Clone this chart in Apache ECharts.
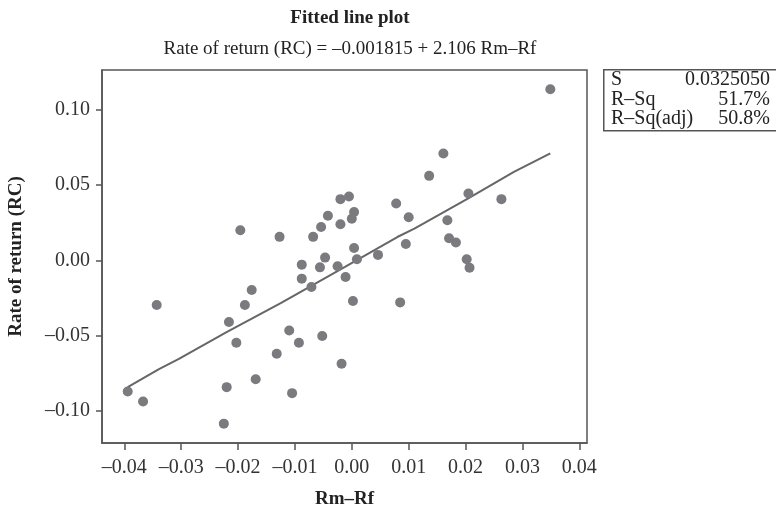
<!DOCTYPE html>
<html>
<head>
<meta charset="utf-8">
<script src="https://cdn.jsdelivr.net/npm/echarts@6/dist/echarts.min.js"></script>
<style>html,body{margin:0;padding:0;background:#fff}#c{width:776px;height:510px}</style>
</head>
<body>
<div id="c"></div>
<script>
// Observed points (Rm-Rf, Rate of return)
var rmRf = [-0.0394,-0.0367,-0.0343,-0.0225,-0.0220,-0.0216,-0.0203,-0.0196,-0.0188,-0.0176,
  -0.0169,-0.0132,-0.0127,-0.0110,-0.0105,-0.0093,-0.0088,-0.0088,-0.0071,-0.0068,
  -0.0056,-0.0054,-0.0052,-0.0047,-0.0042,-0.0025,-0.0020,-0.0020,-0.0018,-0.0011,
  -0.0005,0.0000,0.0002,0.0004,0.0004,0.0009,0.0046,0.0078,0.0085,0.0095,
  0.0100,0.0136,0.0161,0.0168,0.0171,0.0183,0.0202,0.0207,0.0205,0.0263,0.0349];
var rcReturn = [-0.0873,-0.0940,-0.0298,-0.1087,-0.0844,-0.0411,-0.0549,0.0200,-0.0298,-0.0198,
  -0.0791,-0.0622,0.0156,-0.0467,-0.0884,-0.0549,-0.0029,-0.0122,-0.0178,0.0156,
  -0.0047,0.0222,-0.0504,0.0018,0.0296,-0.0039,0.0407,0.0240,-0.0689,-0.0111,
  0.0424,0.0276,-0.0271,0.0322,0.0082,0.0007,0.0036,0.0378,-0.0280,0.0109,
  0.0287,0.0562,0.0711,0.0267,0.0147,0.0118,0.0007,-0.0049,0.0444,0.0407,0.1138];
// Fitted line
var fitX = [-0.0394,-0.0339,-0.0304,-0.0221,-0.0125,-0.0093,-0.0012,0.0080,0.0110,0.0204,0.0285,0.0349];
var fitY = [-0.0844,-0.0724,-0.0656,-0.0480,-0.0285,-0.0216,-0.0044,0.0155,0.0211,0.0411,0.0588,0.0711];
// Tick labels
var xTicks = [-0.04,-0.03,-0.02,-0.01,0.00,0.01,0.02,0.03,0.04];
var yTicks = [-0.10,-0.05,0.00,0.05,0.10];
// Stats box
var statLabels = ['S','R–Sq','R–Sq(adj)'];
var statValues = ['0.0325050','51.7%','50.8%'];
var titleText = 'Fitted line plot';
var subtitleText = 'Rate of return (RC) = –0.001815 + 2.106 Rm–Rf';

var FONT = '"Liberation Serif", "DejaVu Serif", serif';
var AX = '#555';
function fmt(v){ return v.toFixed(2).replace('-', '–'); }

var scatterData = rmRf.map(function(x,i){ return [x, rcReturn[i]]; });
var lineData = fitX.map(function(x,i){ return [x, fitY[i]]; });

var graphics = [{
  type:'rect', left:603, top:69, shape:{width:200, height:61},
  style:{fill:'#fff', stroke:'#555', lineWidth:1.5}
}];
statLabels.forEach(function(t,i){
  graphics.push({type:'text', left:611, top:70+i*19.5,
    style:{text:t, font:'20px '+FONT, fill:'#222'}});
  graphics.push({type:'text', right:6, top:70+i*19.5,
    style:{text:statValues[i], font:'20px '+FONT, fill:'#222', textAlign:'right'}});
});

var chart = echarts.init(document.getElementById('c'), null, {renderer:'canvas'});
chart.setOption({
  backgroundColor:'#fff',
  animation:false,
  title:[
    {text:titleText, left:345, top:4, textAlign:'center',
     textStyle:{fontFamily:FONT, fontSize:19, fontWeight:'bold', color:'#222'}},
    {text:subtitleText, left:345, top:35, textAlign:'center',
     textStyle:{fontFamily:FONT, fontSize:19, fontWeight:'normal', color:'#222'}}
  ],
  grid:{left:102, top:70, right:189, bottom:67, show:true, borderColor:AX, borderWidth:1.5,
        containLabel:false, outerBoundsMode:'none'},
  xAxis:{
    type:'value', min:-0.04392, max:0.04135,
    name:'Rm–Rf', nameLocation:'middle', nameGap:47,
    nameTextStyle:{fontFamily:FONT, fontSize:19, fontWeight:'bold', color:'#222'},
    axisLine:{show:true, onZero:false, lineStyle:{color:AX, width:1.5}},
    axisTick:{show:true, length:7, lineStyle:{color:AX, width:1.5}, customValues:xTicks},
    axisLabel:{fontFamily:FONT, fontSize:20, color:'#333', margin:15, customValues:xTicks, formatter:fmt},
    splitLine:{show:false}
  },
  yAxis:{
    type:'value', min:-0.12158, max:0.12664,
    name:'Rate of return (RC)', nameLocation:'middle', nameGap:76,
    nameTextStyle:{fontFamily:FONT, fontSize:19, fontWeight:'bold', color:'#222'},
    axisLine:{show:true, onZero:false, lineStyle:{color:AX, width:1.5}},
    axisTick:{show:true, length:6, lineStyle:{color:AX, width:1.5}, customValues:yTicks},
    axisLabel:{fontFamily:FONT, fontSize:20, color:'#333', margin:12, customValues:yTicks, formatter:fmt},
    splitLine:{show:false}
  },
  series:[
    {type:'line', data:lineData, showSymbol:false, symbol:'none',
     lineStyle:{color:'#666', width:2}, z:2},
    {type:'scatter', data:scatterData, symbolSize:10,
     itemStyle:{color:'#7b7b7f', opacity:1}, z:3}
  ],
  graphic:graphics
});
</script>
</body>
</html>
